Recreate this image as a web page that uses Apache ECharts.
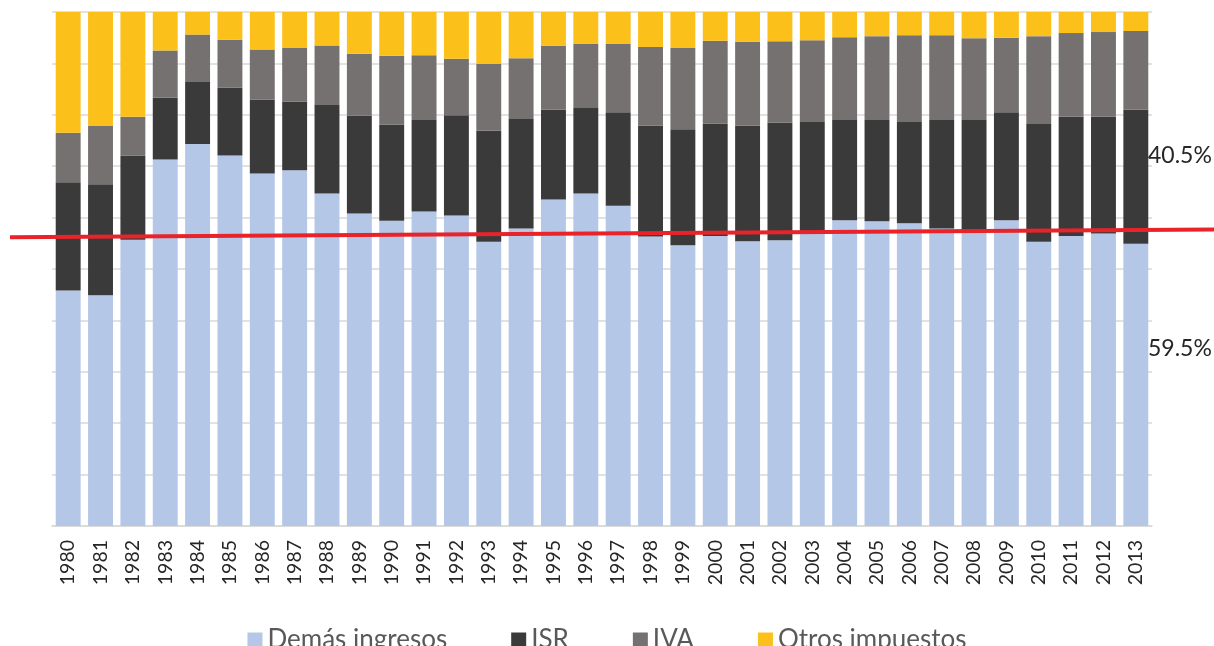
<!DOCTYPE html>
<html>
<head>
<meta charset="utf-8">
<script src="https://cdn.jsdelivr.net/npm/echarts@6/dist/echarts.min.js"></script>
<style>
  html, body { margin: 0; padding: 0; background: #fff; }
  #chart { width: 1214px; height: 646px; }
</style>
</head>
<body>
<div id="chart"></div>
<script>
// años
var years = ['1980','1981','1982','1983','1984','1985','1986','1987','1988','1989',
  '1990','1991','1992','1993','1994','1995','1996','1997','1998','1999',
  '2000','2001','2002','2003','2004','2005','2006','2007','2008','2009',
  '2010','2011','2012','2013'];

// participación (%) de cada rubro en los ingresos totales
var demasIngresos = [45.8, 44.9, 55.7, 71.3, 74.3, 72.1, 68.6, 69.2, 64.7, 60.8,
  59.4, 61.2, 60.4, 55.3, 57.9, 63.5, 64.7, 62.3, 56.3, 54.6,
  56.4, 55.4, 55.6, 56.9, 59.5, 59.3, 58.9, 57.9, 57.5, 59.5,
  55.3, 56.4, 56.9, 54.9];
var isr = [21.1, 21.6, 16.4, 12.0, 12.1, 13.2, 14.4, 13.4, 17.2, 19.0,
  18.7, 17.8, 19.5, 21.6, 21.3, 17.5, 16.6, 18.2, 21.6, 22.6,
  21.9, 22.5, 22.9, 21.7, 19.5, 19.7, 19.7, 21.1, 21.5, 21.0,
  22.9, 23.2, 22.7, 26.1];
var iva = [9.6, 11.3, 7.5, 9.2, 9.2, 9.3, 9.7, 10.4, 11.6, 12.1,
  13.4, 12.6, 11.0, 13.0, 11.8, 12.4, 12.5, 13.3, 15.3, 15.8,
  16.1, 16.3, 15.8, 15.9, 16.1, 16.3, 16.9, 16.5, 15.9, 14.5,
  17.1, 16.3, 16.5, 15.3];
var otrosImpuestos = [23.5, 22.2, 20.4, 7.5, 4.4, 5.4, 7.3, 7.0, 6.5, 8.1,
  8.5, 8.4, 9.1, 10.1, 9.0, 6.6, 6.2, 6.2, 6.8, 7.0,
  5.6, 5.8, 5.7, 5.5, 4.9, 4.7, 4.5, 4.5, 5.1, 5.0,
  4.7, 4.1, 3.9, 3.7];

// línea roja (valor en % al borde izquierdo y derecho)
var lineaRoja = [56.2, 57.7];
var etiquetas = ['40.5%', '59.5%'];

var font = 'Lato, "Open Sans", sans-serif';

function serie(name, data, color) {
  return {
    name: name,
    type: 'bar',
    stack: 'total',
    data: data,
    barCategoryGap: '23%',
    itemStyle: { color: color },
    emphasis: { disabled: true }
  };
}

var chart = echarts.init(document.getElementById('chart'));
var option = {
  animation: false,
  textStyle: { fontFamily: font },
  grid: { left: 52, right: 62, top: 12, bottom: 120 },
  legend: {
    left: 'center',
    top: 622,
    icon: 'rect',
    itemWidth: 15,
    itemHeight: 15,
    itemGap: 64,
    textStyle: { fontFamily: font, fontSize: 26, color: '#595959' },
    data: ['Demás ingresos', 'ISR', 'IVA', 'Otros impuestos']
  },
  xAxis: {
    type: 'category',
    data: years,
    axisLine: { lineStyle: { color: '#d9d9d9', width: 1.5 } },
    axisTick: { show: false },
    axisLabel: { rotate: 90, margin: 14, fontSize: 19.5, color: '#262626', fontFamily: font }
  },
  yAxis: {
    type: 'value',
    min: 0,
    max: 100,
    interval: 10,
    axisLabel: { show: false },
    axisLine: { show: false },
    axisTick: { show: false },
    splitLine: { lineStyle: { color: '#d9d9d9', width: 1.5 } }
  },
  series: [
    serie('Demás ingresos', demasIngresos, '#b4c7e7'),
    serie('ISR', isr, '#3a3a3a'),
    serie('IVA', iva, '#767171'),
    serie('Otros impuestos', otrosImpuestos, '#fcc01a')
  ]
};
chart.setOption(option);

var y0 = chart.convertToPixel({ yAxisIndex: 0 }, lineaRoja[0]);
var y1 = chart.convertToPixel({ yAxisIndex: 0 }, lineaRoja[1]);
chart.setOption({
  graphic: [
    {
      type: 'line',
      shape: { x1: 10, y1: y0, x2: 1214, y2: y1 },
      style: { stroke: '#e8232a', lineWidth: 4 },
      z: 100
    },
    {
      type: 'text',
      left: 1148,
      top: 144,
      style: { text: etiquetas[0], fontFamily: font, fontSize: 23, fill: '#262626' },
      z: 100
    },
    {
      type: 'text',
      left: 1148,
      top: 337,
      style: { text: etiquetas[1], fontFamily: font, fontSize: 23, fill: '#262626' },
      z: 100
    }
  ]
});
</script>
</body>
</html>
